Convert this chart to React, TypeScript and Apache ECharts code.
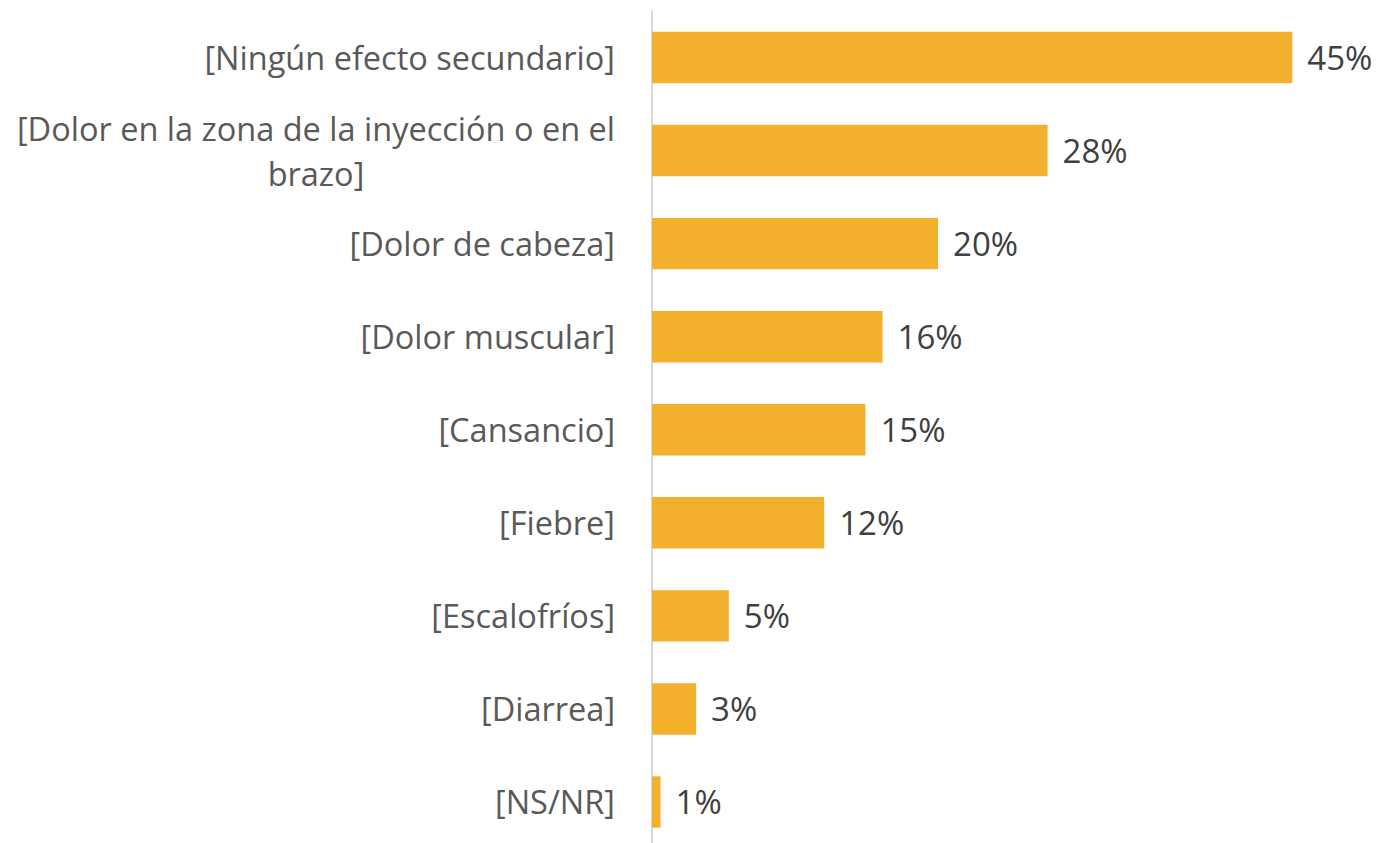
import React, { useEffect, useRef } from "react";
import * as echarts from "echarts";

const categories = [
  "[Ningún efecto secundario]",
  "[Dolor en la zona de la inyección o en el\nbrazo]",
  "[Dolor de cabeza]",
  "[Dolor muscular]",
  "[Cansancio]",
  "[Fiebre]",
  "[Escalofríos]",
  "[Diarrea]",
  "[NS/NR]",
];
const values = [45, 27.8, 20.1, 16.2, 15.0, 12.1, 5.4, 3.1, 0.6];

const FONT = "'Open Sans', 'Noto Sans', sans-serif";

export default function App() {
  const ref = useRef<HTMLDivElement>(null);
  useEffect(() => {
    if (!ref.current) return;
    const chart = echarts.init(ref.current, undefined, { renderer: "svg" });
    chart.setOption({
      animation: false,
      backgroundColor: "#ffffff",
      grid: { left: 652, top: 11, width: 711.5, height: 837.5, containLabel: false },
      xAxis: {
        type: "value",
        min: 0,
        max: 50,
        show: false,
      },
      yAxis: {
        type: "category",
        inverse: true,
        data: categories,
        axisLine: { show: true, lineStyle: { color: "#D9D9D9", width: 2 } },
        axisTick: { show: false },
        splitLine: { show: false },
        axisLabel: {
          margin: 37,
          color: "#595959",
          fontFamily: FONT,
          fontSize: 32.5,
          lineHeight: 45,
          formatter: (v: string) =>
            v
              .split("\n")
              .map((l) => `{c|${l}}`)
              .join("\n"),
          rich: {
            c: {
              align: "center",
              color: "#595959",
              fontFamily: FONT,
              fontSize: 32.5,
              lineHeight: 45,
            },
          },
        },
      },
      series: [
        {
          type: "bar",
          data: values,
          barCategoryGap: "44.7%",
          itemStyle: { color: "#F3B02D" },
          label: {
            show: true,
            position: "right",
            distance: 15,
            color: "#404040",
            fontFamily: FONT,
            fontSize: 33,
            formatter: (p: any) => `${Math.round(p.value)}%`,
          },
        },
      ],
    });
    return () => chart.dispose();
  }, []);
  return (
    <div
      ref={ref}
      style={{ position: "fixed", left: 0, top: 0, width: 1379, height: 860, background: "#fff" }}
    />
  );
}
